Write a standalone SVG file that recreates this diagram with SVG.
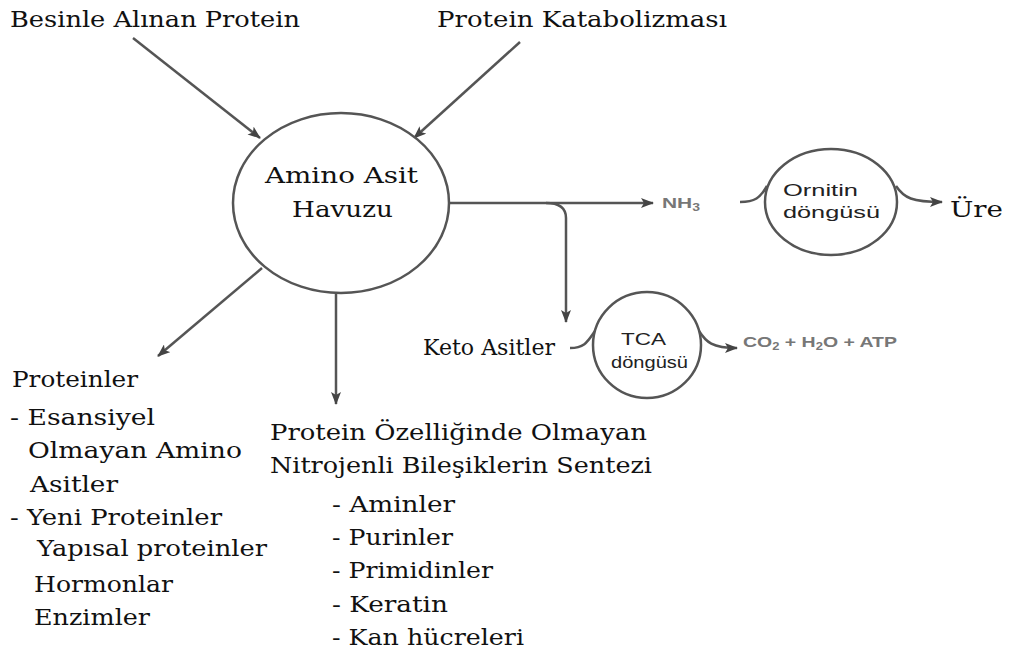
<svg xmlns="http://www.w3.org/2000/svg" width="1027" height="657" viewBox="0 0 1027 657">
<style>
.s{font-family:'DejaVu Serif','Liberation Serif',serif;font-size:22px;fill:#111}
.c{font-family:'Liberation Sans',Arial,sans-serif;font-size:17px;fill:#222}
.g{font-family:'Liberation Sans',Arial,sans-serif;font-size:15px;font-weight:bold;fill:#777}
.ln{fill:none;stroke:#555;stroke-width:2.5}
.nd{fill:#fff;stroke:#555;stroke-width:2.5}
</style>
<defs>
<marker id="ah" markerUnits="userSpaceOnUse" markerWidth="14" markerHeight="10" refX="12" refY="5" orient="auto">
<path d="M0,0 L13,5 L0,10 L3,5 z" fill="#444"/>
</marker>
</defs>
<g id="connectors">
<line class="ln" x1="133" y1="38" x2="260" y2="138" marker-end="url(#ah)"/>
<line class="ln" x1="520" y1="42" x2="414" y2="138" marker-end="url(#ah)"/>
<path class="ln" d="M449 203 L653 203" marker-end="url(#ah)"/>
<path class="ln" d="M546 203 C560 203 566 208 566 218 L566 322" marker-end="url(#ah)"/>
<line class="ln" x1="262" y1="268" x2="158" y2="356" marker-end="url(#ah)"/>
<line class="ln" x1="336" y1="292" x2="336" y2="404" marker-end="url(#ah)"/>
<path class="ln" d="M740 202 C755 202 760 198 767 186"/>
<path class="ln" d="M896 186 C904 198 912 202 942 202" marker-end="url(#ah)"/>
<path class="ln" d="M570 348 C585 348 588 341 595 331"/>
<path class="ln" d="M699 331 C706 342 712 348 737 348" marker-end="url(#ah)"/>
</g>
<g id="besinle"><text class="s" x="10" y="27" textLength="290" lengthAdjust="spacingAndGlyphs">Besinle Alınan Protein</text></g>
<g id="katabolizma"><text class="s" x="437" y="27" textLength="290" lengthAdjust="spacingAndGlyphs">Protein Katabolizması</text></g>
<g id="havuz">
<ellipse class="nd" cx="341" cy="203" rx="108" ry="90"/>
<text class="s" x="265" y="183" textLength="153" lengthAdjust="spacingAndGlyphs">Amino Asit</text>
<text class="s" x="292" y="217" textLength="101" lengthAdjust="spacingAndGlyphs">Havuzu</text>
</g>
<g id="nh3"><text class="g" x="662" y="208" font-size="14" textLength="38" lengthAdjust="spacingAndGlyphs">NH<tspan font-size="10" dy="3">3</tspan></text></g>
<g id="ornitin">
<ellipse class="nd" cx="831" cy="202" rx="66" ry="53"/>
<text class="c" x="783" y="196" textLength="75" lengthAdjust="spacingAndGlyphs">Ornitin</text>
<text class="c" x="783" y="218" textLength="97" lengthAdjust="spacingAndGlyphs">döngüsü</text>
</g>
<g id="ure"><text class="s" x="950" y="217" font-size="24" textLength="53" lengthAdjust="spacingAndGlyphs">Üre</text></g>
<g id="keto"><text class="s" x="423" y="355" textLength="132" lengthAdjust="spacingAndGlyphs">Keto Asitler</text></g>
<g id="tca">
<ellipse class="nd" cx="647" cy="345" rx="54" ry="53"/>
<text class="c" x="621" y="345" textLength="45" lengthAdjust="spacingAndGlyphs">TCA</text>
<text class="c" x="611" y="368" textLength="77" lengthAdjust="spacingAndGlyphs">döngüsü</text>
</g>
<g id="co2"><text class="g" x="743" y="347" textLength="154" lengthAdjust="spacingAndGlyphs">CO<tspan font-size="10" dy="3">2</tspan><tspan dy="-3"> + H</tspan><tspan font-size="10" dy="3">2</tspan><tspan dy="-3">O + ATP</tspan></text></g>
<g id="proteinler">
<text class="s" x="12" y="387" textLength="126" lengthAdjust="spacingAndGlyphs">Proteinler</text>
<text class="s" x="10" y="425" textLength="145" lengthAdjust="spacingAndGlyphs">- Esansiyel</text>
<text class="s" x="28" y="458" textLength="214" lengthAdjust="spacingAndGlyphs">Olmayan Amino</text>
<text class="s" x="30" y="492" textLength="88" lengthAdjust="spacingAndGlyphs">Asitler</text>
<text class="s" x="10" y="525" textLength="212" lengthAdjust="spacingAndGlyphs">- Yeni Proteinler</text>
<text class="s" x="37" y="556" textLength="230" lengthAdjust="spacingAndGlyphs">Yapısal proteinler</text>
<text class="s" x="34" y="592" textLength="139" lengthAdjust="spacingAndGlyphs">Hormonlar</text>
<text class="s" x="34" y="625" textLength="116" lengthAdjust="spacingAndGlyphs">Enzimler</text>
</g>
<g id="nitrojenli">
<text class="s" x="270" y="440" textLength="377" lengthAdjust="spacingAndGlyphs">Protein Özelliğinde Olmayan</text>
<text class="s" x="270" y="473" textLength="382" lengthAdjust="spacingAndGlyphs">Nitrojenli Bileşiklerin Sentezi</text>
<text class="s" x="332" y="512" textLength="123" lengthAdjust="spacingAndGlyphs">- Aminler</text>
<text class="s" x="332" y="545" textLength="121" lengthAdjust="spacingAndGlyphs">- Purinler</text>
<text class="s" x="332" y="578" textLength="161" lengthAdjust="spacingAndGlyphs">- Primidinler</text>
<text class="s" x="332" y="612" textLength="116" lengthAdjust="spacingAndGlyphs">- Keratin</text>
<text class="s" x="332" y="645" textLength="192" lengthAdjust="spacingAndGlyphs">- Kan hücreleri</text>
</g>
</svg>
